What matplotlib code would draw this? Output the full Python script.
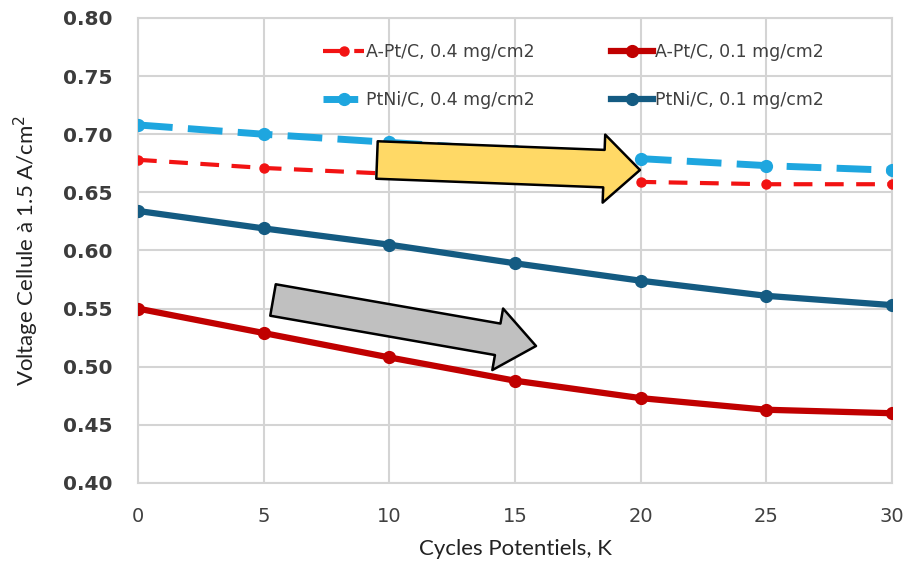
import matplotlib
matplotlib.use("Agg")
import matplotlib.pyplot as plt

# données
cycles = [0, 5, 10, 15, 20, 25, 30]
apt_04 = [0.678, 0.671, 0.666, 0.662, 0.659, 0.657, 0.657]
apt_01 = [0.550, 0.529, 0.508, 0.488, 0.473, 0.463, 0.460]
ptni_04 = [0.708, 0.700, 0.693, 0.686, 0.679, 0.673, 0.669]
ptni_01 = [0.634, 0.619, 0.605, 0.589, 0.574, 0.561, 0.553]

labels = ["A-Pt/C, 0.4 mg/cm2", "A-Pt/C, 0.1 mg/cm2",
          "PtNi/C, 0.4 mg/cm2", "PtNi/C, 0.1 mg/cm2"]
yticks = [0.40, 0.45, 0.50, 0.55, 0.60, 0.65, 0.70, 0.75, 0.80]
xticks = [0, 5, 10, 15, 20, 25, 30]

fig = plt.figure(figsize=(9.23, 5.62), dpi=100)
ax = fig.add_axes([0.1495, 0.1406, 0.8169, 0.8274])

l_apt04, = ax.plot(cycles, apt_04, color="#f21313", lw=3, ls=(0, (4.5, 3)),
                   marker="o", ms=6.5, label=labels[0], zorder=4)
l_ptni04, = ax.plot(cycles, ptni_04, color="#1ea6df", lw=5, ls=(0, (5, 2.2)),
                    marker="o", ms=8.5, label=labels[2], zorder=3)
l_apt01, = ax.plot(cycles, apt_01, color="#c00000", lw=4.5,
                   marker="o", ms=8.5, label=labels[1], zorder=4)
l_ptni01, = ax.plot(cycles, ptni_01, color="#145b82", lw=4.5,
                    marker="o", ms=8.5, label=labels[3], zorder=4)

ax.set_xlim(0, 30)
ax.set_ylim(0.40, 0.80)
ax.set_xticks(xticks)
ax.set_yticks(yticks)
ax.set_yticklabels([f"{v:.2f}" for v in yticks], fontsize=14.5,
                   fontweight="bold", color="#3c3c3c")
ax.set_xticklabels([str(v) for v in xticks], fontsize=14, color="#404040")
ax.tick_params(length=0, pad=18, axis="y")
ax.tick_params(length=0, pad=17, axis="x")
ax.grid(True, color="#d4d4d4", lw=1.5, zorder=0)
ax.set_axisbelow(True)
for s in ax.spines.values():
    s.set_color("#d4d4d4")
    s.set_linewidth(1.5)

ax.set_xlabel("Cycles Potentiels, K", fontsize=16, color="#222222",
              family=["Lato", "DejaVu Sans"], labelpad=10)
ax.set_ylabel("Voltage Cellule à 1.5 A/cm$^2$", fontsize=16, color="#222222",
              family=["Lato", "DejaVu Sans"], labelpad=16)

leg = ax.legend(handles=[l_apt04, l_ptni04, l_apt01, l_ptni01], ncol=2,
                loc="upper left", bbox_to_anchor=(0.245, 0.947),
                frameon=False, fontsize=12.5, handlelength=2.4,
                handletextpad=0.1, labelspacing=1.75, columnspacing=4.4,
                borderpad=0, borderaxespad=0)
for t in leg.get_texts():
    t.set_color("#404040")

# flèches
ax.annotate("", xy=(640, 392), xytext=(377, 402), xycoords="figure pixels",
            textcoords="figure pixels",
            arrowprops=dict(arrowstyle="simple,head_length=26,head_width=49,tail_width=27",
                            mutation_scale=1, fc="#ffd966", ec="black", lw=1.8,
                            shrinkA=0, shrinkB=0), zorder=6)
ax.annotate("", xy=(536, 216), xytext=(273, 262), xycoords="figure pixels",
            textcoords="figure pixels",
            arrowprops=dict(arrowstyle="simple,head_length=28,head_width=45,tail_width=23",
                            mutation_scale=1, fc="#c0c0c0", ec="black", lw=1.8,
                            shrinkA=0, shrinkB=0), zorder=6)

fig.savefig("out.png", dpi=100)
